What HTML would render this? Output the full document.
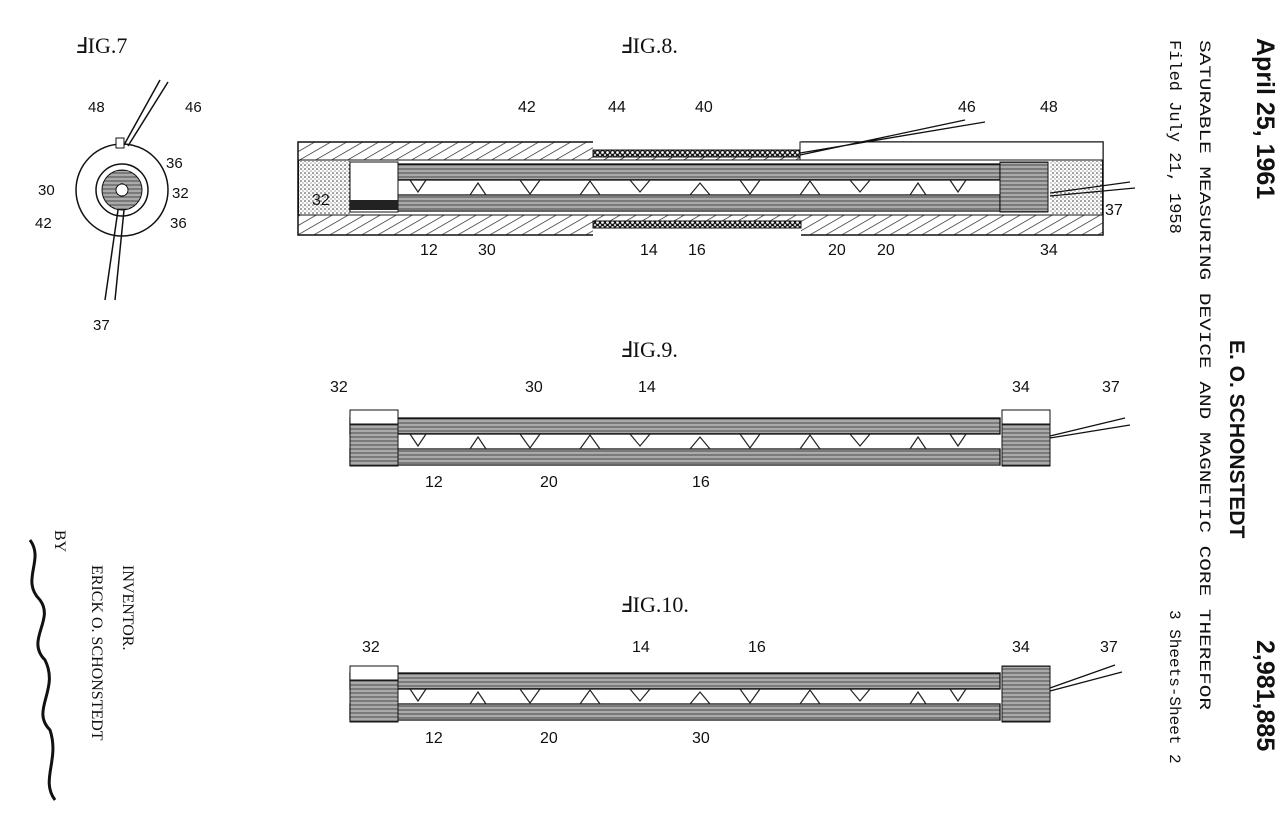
<!DOCTYPE html>
<html><head><style>
html,body{margin:0;padding:0;background:#fff;}
svg{display:block}
text{fill:#111}
.s{font-family:"Liberation Sans",sans-serif}
.m{font-family:"Liberation Mono",monospace}
.r{font-family:"Liberation Serif",serif}
</style></head><body>
<svg width="1280" height="818" viewBox="0 0 1280 818" xmlns="http://www.w3.org/2000/svg">
<defs>
<pattern id="hatch" width="8" height="8" patternUnits="userSpaceOnUse" patternTransform="rotate(60)">
<line x1="0" y1="0" x2="0" y2="8" stroke="#222" stroke-width="1.4"/></pattern>
<pattern id="bead" width="5" height="5" patternUnits="userSpaceOnUse">
<rect width="5" height="5" fill="#fff"/><circle cx="2.5" cy="2.5" r="2" fill="none" stroke="#111" stroke-width="1.3"/></pattern>
<pattern id="lines" width="10" height="4" patternUnits="userSpaceOnUse">
<rect width="10" height="4" fill="#fff"/><line x1="0" y1="1" x2="10" y2="1" stroke="#222" stroke-width="1.2"/><line x1="0" y1="3" x2="10" y2="3" stroke="#555" stroke-width="1"/></pattern>
<pattern id="stip" width="4" height="4" patternUnits="userSpaceOnUse">
<rect width="4" height="4" fill="#fff"/><circle cx="1" cy="1" r="0.8" fill="#333"/><circle cx="3" cy="3" r="0.6" fill="#666"/></pattern>
<g id="rods">
<rect x="0" y="0" width="650" height="16" fill="url(#lines)" stroke="#111" stroke-width="1.3"/>
<rect x="0" y="31" width="650" height="16" fill="url(#lines)" stroke="#111" stroke-width="1.3"/>
<path d="M60 16 l8 12 l8 -12 M170 16 l10 14 l10 -14 M280 16 l10 12 l10 -12 M390 16 l10 14 l10 -14 M500 16 l10 12 l10 -12 M600 16 l8 12 l8 -12" fill="none" stroke="#222" stroke-width="1.2"/>
<path d="M120 31 l8 -12 l8 12 M230 31 l10 -14 l10 14 M340 31 l10 -12 l10 12 M450 31 l10 -14 l10 14 M560 31 l8 -12 l8 12" fill="none" stroke="#222" stroke-width="1.2"/>
</g>
</defs>

<!-- FIG 7 -->
<text x="75" y="53" font-size="22" class="r">ℲIG.7</text>
<circle cx="122" cy="190" r="46" fill="#fff" stroke="#111" stroke-width="1.5"/>
<circle cx="122" cy="190" r="26" fill="#fff" stroke="#111" stroke-width="1.5"/>
<circle cx="122" cy="190" r="20" fill="url(#lines)" stroke="#111"/>
<circle cx="122" cy="190" r="6" fill="#fff" stroke="#111"/>
<rect x="116" y="138" width="8" height="10" fill="#fff" stroke="#111"/>
<path d="M124 145 L160 80 M128 146 L168 82 M118 210 L105 300 M124 210 L115 300" stroke="#111" stroke-width="1.5" fill="none"/>
<g font-size="15" class="s">
<text x="88" y="112">48</text><text x="185" y="112">46</text>
<text x="166" y="168">36</text><text x="38" y="195">30</text><text x="172" y="198">32</text>
<text x="35" y="228">42</text><text x="170" y="228">36</text><text x="93" y="330">37</text>
</g>

<!-- FIG 8 -->
<text x="620" y="53" font-size="22" class="r">ℲIG.8.</text>
<rect x="298" y="142" width="805" height="93" fill="url(#hatch)" stroke="#111" stroke-width="1.5"/>
<rect x="593" y="140" width="208" height="10" fill="#fff"/>
<rect x="593" y="150" width="208" height="7" fill="url(#bead)" stroke="#111"/>
<rect x="593" y="228" width="208" height="8" fill="#fff"/>
<rect x="593" y="221" width="208" height="7" fill="url(#bead)" stroke="#111"/>
<rect x="800" y="142" width="303" height="18" fill="#fff" stroke="#111"/>
<rect x="299" y="160" width="803" height="55" fill="#fff" stroke="#111"/>
<rect x="299" y="161" width="52" height="53" fill="url(#stip)"/>
<rect x="1050" y="161" width="52" height="53" fill="url(#stip)"/>
<use href="#rods" x="350" y="164"/>
<rect x="350" y="162" width="48" height="50" fill="#fff" stroke="#111"/>
<rect x="350" y="200" width="48" height="10" fill="#222"/>
<rect x="1000" y="162" width="48" height="50" fill="url(#lines)" stroke="#111"/>
<path d="M800 155 L965 120 M800 153 L985 122 M1050 193 L1130 182 M1050 196 L1135 188" stroke="#111" stroke-width="1.3" fill="none"/>
<g font-size="16" class="s">
<text x="518" y="112">42</text><text x="608" y="112">44</text><text x="695" y="112">40</text>
<text x="958" y="112">46</text><text x="1040" y="112">48</text><text x="312" y="205">32</text>
<text x="1105" y="215">37</text>
<text x="420" y="255">12</text><text x="478" y="255">30</text><text x="640" y="255">14</text>
<text x="688" y="255">16</text><text x="828" y="255">20</text><text x="877" y="255">20</text><text x="1040" y="255">34</text>
</g>

<!-- FIG 9 -->
<text x="620" y="357" font-size="22" class="r">ℲIG.9.</text>
<use href="#rods" x="350" y="418"/>
<rect x="350" y="410" width="48" height="56" fill="url(#lines)" stroke="#111"/>
<rect x="350" y="410" width="48" height="14" fill="#fff" stroke="#111"/>
<rect x="1002" y="410" width="48" height="56" fill="url(#lines)" stroke="#111"/>
<rect x="1002" y="410" width="48" height="14" fill="#fff" stroke="#111"/>
<path d="M1050 436 L1125 418 M1050 438 L1130 425" stroke="#111" stroke-width="1.3" fill="none"/>
<g font-size="16" class="s">
<text x="330" y="392">32</text><text x="525" y="392">30</text><text x="638" y="392">14</text>
<text x="1012" y="392">34</text><text x="1102" y="392">37</text>
<text x="425" y="487">12</text><text x="540" y="487">20</text><text x="692" y="487">16</text>
</g>

<!-- FIG 10 -->
<text x="620" y="612" font-size="22" class="r">ℲIG.10.</text>
<use href="#rods" x="350" y="673"/>
<rect x="350" y="666" width="48" height="56" fill="url(#lines)" stroke="#111"/>
<rect x="350" y="666" width="48" height="14" fill="#fff" stroke="#111"/>
<rect x="1002" y="666" width="48" height="56" fill="url(#lines)" stroke="#111"/>
<path d="M1050 688 L1115 665 M1050 691 L1122 672" stroke="#111" stroke-width="1.3" fill="none"/>
<g font-size="16" class="s">
<text x="362" y="652">32</text><text x="632" y="652">14</text><text x="748" y="652">16</text>
<text x="1012" y="652">34</text><text x="1100" y="652">37</text>
<text x="425" y="743">12</text><text x="540" y="743">20</text><text x="692" y="743">30</text>
</g>

<!-- right side text -->
<text transform="translate(1257,38) rotate(90)" font-size="25" font-weight="bold" class="s">April 25, 1961</text>
<text transform="translate(1257,640) rotate(90)" font-size="25" font-weight="bold" class="s">2,981,885</text>
<text transform="translate(1230,340) rotate(90)" font-size="21" font-weight="bold" class="s">E. O. SCHONSTEDT</text>
<text transform="translate(1200,40) rotate(90)" font-size="16" class="m" textLength="670" lengthAdjust="spacingAndGlyphs">SATURABLE MEASURING DEVICE AND MAGNETIC CORE THEREFOR</text>
<text transform="translate(1170,40) rotate(90)" font-size="17" class="m">Filed July 21, 1958</text>
<text transform="translate(1170,610) rotate(90)" font-size="16" class="m">3 Sheets-Sheet 2</text>

<!-- inventor -->
<text transform="translate(123,565) rotate(90)" font-size="16" class="r">INVENTOR.</text>
<text transform="translate(92,565) rotate(90)" font-size="16" class="r">ERICK O. SCHONSTEDT</text>
<text transform="translate(55,530) rotate(90)" font-size="16" class="r">BY</text>
<path d="M30 540 C45 560 20 580 40 600 C55 620 25 640 45 660 C60 690 30 710 50 730 C60 760 40 780 55 800" stroke="#111" stroke-width="3" fill="none"/>
</svg>
</body></html>
